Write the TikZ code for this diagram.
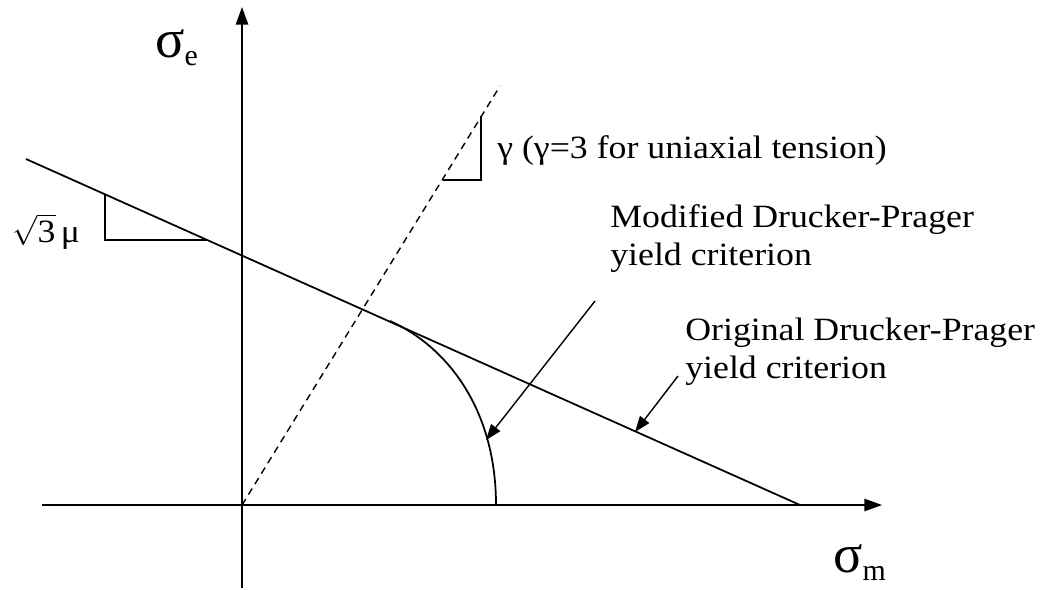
\documentclass[tikz,border=0pt]{standalone}
\usepackage{fontspec}
\setmainfont{Liberation Serif}
\newfontfamily\lblfont{Liberation Serif}[FakeStretch=1.1]
\usetikzlibrary{arrows.meta, positioning}

\begin{document}
\begin{tikzpicture}[
  x=0.02cm, y=-0.02cm,
  axis/.style={line width=1pt, -{Triangle[length=10pt, width=7pt]}},
  crit/.style={line width=1pt},
  slopemark/.style={line width=0.8pt},
  pointer/.style={line width=0.8pt, -{Triangle[length=9pt, width=6.5pt]}},
  lbl/.style={font=\lblfont\fontsize{18.5}{21.5}\selectfont, align=left, inner sep=0pt, anchor=base west},
  sym/.style={inner sep=0pt, anchor=base west}
]
\useasboundingbox (0,0) rectangle (1050,589);

% Axes
\coordinate (O) at (242,505);
\coordinate (ybot) at (242,588);
\coordinate (ytop) at (242,7);
\coordinate (xleft) at (42,505);
\coordinate (xright) at (882,505);
\draw[axis] (ybot) -- (ytop);
\draw[axis] (xleft) -- (xright);
\node[sym] (se) at (155,57) {{\fontsize{31}{31}\selectfont σ}\raisebox{-5pt}{\fontsize{17}{17}\selectfont e}};
\node[sym] (sm) at (833,572) {{\fontsize{31}{31}\selectfont σ}\raisebox{-5pt}{\fontsize{17}{17}\selectfont m}};

% Original Drucker-Prager line and dashed uniaxial line
\coordinate (dpA) at (26,159);
\coordinate (dpB) at (800,505);
\coordinate (uniax) at (500,86);
\draw[crit] (dpA) -- (dpB);
\draw[slopemark, dashed, dash pattern=on 4pt off 3pt] (O) -- (uniax);

% Modified cap
\coordinate (cap) at (496,505);
\coordinate (tang) at (390,321);
\draw[crit] (cap) .. controls (496,410) and (448,347) .. (tang);

% Slope marks
\draw[slopemark] (105,195) |- (207,240);
\draw[slopemark] (443,180) -| (481,116);
\node[lbl] (mu) at (12,242) {$\sqrt{\mbox{\lblfont\fontsize{18.5}{21.5}\selectfont 3}}$\,μ};
\node[lbl] (gam) at (497,158) {γ (γ=3 for uniaxial tension)};

% Labels with pointers
\node[lbl] (mod) at (610,265) {Modified Drucker-Prager\\yield criterion};
\node[lbl] (orig) at (685,378) {Original Drucker-Prager\\yield criterion};
\coordinate (modtail) at (595,301);
\coordinate (modtip) at (486,440);
\coordinate (origtail) at (678,376);
\coordinate (origtip) at (635,432);
\draw[pointer] (modtail) -- (modtip);
\draw[pointer] (origtail) -- (origtip);

\end{tikzpicture}
\end{document}
